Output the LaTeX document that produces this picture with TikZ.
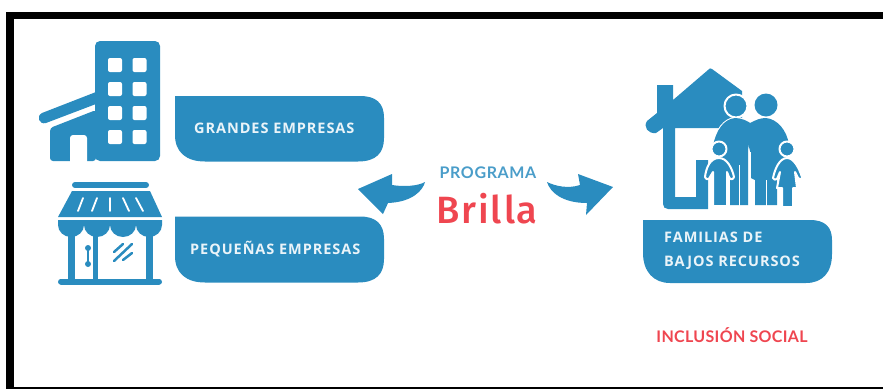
\documentclass[tikz,border=0pt]{standalone}
\usepackage{fontspec}
\setmainfont{Lato}
\newfontfamily\cajafont[LetterSpace=6.5]{Open Sans}
\newfontfamily\progfont[LetterSpace=4]{Lato}
\newfontfamily\inclfont[LetterSpace=2]{Lato}
\newfontfamily\brillafont[LetterSpace=5]{Fira Sans Medium}
\usetikzlibrary{positioning}
\definecolor{azul}{HTML}{2A8CBF}
\definecolor{rojo}{HTML}{EF4650}
\begin{document}
\begin{tikzpicture}
 [x=1pt,y=-1pt,
 icon/.style={fill=azul,draw=none},
 hueco/.style={fill=white,draw=none},
 halo/.style={fill=azul,draw=white,line width=2pt,line join=round},
 caja/.style={font=\cajafont\bfseries\fontsize{14.5}{24}\selectfont,text=white!90!azul,anchor=west,inner sep=0pt}]
\useasboundingbox (0,0) rectangle (883,389);
\fill (6,12) rectangle (883,19);
\fill (6,12) rectangle (14,389);
\fill (14,387) rectangle (883,389);

% cajas
\fill[azul] (175,96) -- (360,96) .. controls (376,96) and (384,103) .. (384,118) -- (384,138) .. controls (384,153) and (376,161.5) .. (358,161.5) -- (205,161.5) .. controls (186,161.5) and (175,152) .. (175,135) -- cycle;
\fill[azul] (175,216.5) -- (360,216.5) .. controls (376,216.5) and (384,224) .. (384,239) -- (384,259) .. controls (384,274) and (376,282.5) .. (358,282.5) -- (205,282.5) .. controls (186,282.5) and (175,273) .. (175,256) -- cycle;
\fill[azul] (643,220) -- (810,220) .. controls (825,220) and (832,227) .. (832,240) -- (832,254) .. controls (832,273) and (822,283) .. (806,283) -- (670,283) .. controls (654,283) and (643,272) .. (643,253) -- cycle;
\node[caja] (grandes) at (194,128) {GRANDES EMPRESAS};
\node[caja] (pequenas) at (190,249) {PEQUEÑAS EMPRESAS};
\node[caja,align=left] (familias) at (664,251) {FAMILIAS DE\\BAJOS RECURSOS};

% edificio
\fill[icon,rounded corners=5pt] (95,41) rectangle (160,161);
\foreach \x in {115,139.5}
  \foreach \y in {65,89,113,137}
    \fill[hueco,rounded corners=2pt] (\x-7,\y-7) rectangle (\x+7,\y+7);
\fill[icon,rounded corners=3pt] (96,161) -- (50,161) -- (50,128) -- (96,110) -- cycle;
\fill[hueco,rounded corners=3pt] (70,165) -- (70,135) -- (87,135) -- (87,165) -- cycle;
\fill[azul] (96,92) -- (42,113) .. controls (36,116) and (39,125) .. (46,123) -- (96,104) -- cycle;

% tienda
\draw[azul,line width=6pt,line cap=round] (75,185) -- (146,185);
\draw[azul,line width=6pt,line cap=round] (61,281.5) -- (159,281.5);
\fill[icon] (72,191) -- (150,191) -- (162,217) -- (58,217) -- cycle;
\foreach \a/\b/\c/\d in {83/78/198/211,97/92/198/211,110/110/198/211,123/129/198/211,136/143/198/211}
  \draw[white,line width=1.8pt,line cap=round] (\a,\c) -- (\b,\d);
\fill[icon] (162,220) -- (58,220) -- (58,225) arc (180:0:13 and 12) arc (180:0:13 and 12) arc (180:0:13 and 12) arc (180:0:13 and 12) -- cycle;
\fill[azul] (68,232) rectangle (75,281);
\fill[azul] (146,232) rectangle (153,281);
\fill[azul] (93,232) rectangle (98,281);
\draw[azul,line width=2pt] (88,248) -- (88,264);
\fill[azul] (88,248) circle (3);
\fill[azul] (88,264) circle (3);
\draw[azul,line width=2.5pt,line cap=round] (114,252) -- (123,244);
\draw[azul,line width=2.5pt,line cap=round] (114,261) -- (132,244);
\draw[azul,line width=2.5pt,line cap=round] (123,260) -- (132,253);

% casa
\fill[icon] (712,69) -- (742,91) -- (742,128) -- (675,128) -- (675,197) -- (696,197) -- (696,160) -- (708,160) -- (708,209) -- (668,209) .. controls (665,209) and (663,207) .. (663,204) -- (663,128) -- (656,133) .. controls (648,134) and (643,127) .. (647,121) -- (657,113) -- (657,85) -- (673,85) -- (673,100) -- (708,70) .. controls (709,68) and (711,68) .. (712,69) -- cycle;

% familia
\fill[halo] (736,106) circle (11.5);
\fill[icon] (766,105) circle (11.5);
\path[halo] (735,118) .. controls (724,119) and (716,130) .. (713,146) -- (722,170) -- (730,175) -- (730,205) -- (748,205) -- (748,150) -- (752,124) .. controls (747,121) and (742,118) .. (735,118) -- cycle;
\path[icon] (735,118) .. controls (724,119) and (716,130) .. (713,146) -- (722,170) -- (730,175) -- (730,205) -- (748,205) -- (748,150) -- (752,124) .. controls (747,121) and (742,118) .. (735,118) -- cycle;
\fill[icon] (766,118) .. controls (760,118) and (756,120) .. (750,123) -- (746,135) -- (751,155) -- (751,178) -- (755,180) -- (755,205) -- (777,205) -- (777,180) -- (785,165) -- (789,145) .. controls (787,130) and (777,119) .. (766,118) -- cycle;
\fill[hueco] (749,152) rectangle (751,206);
\fill[hueco] (738.5,165) rectangle (739.5,206);
\fill[hueco] (765.5,180) rectangle (766.5,206);
\path[halo] (719,149) circle (7.5);
\path[halo] (787,149) circle (7.5);
\path[halo] (705,177) .. controls (706,168) and (710,158) .. (719,158) .. controls (727,158) and (732,168) .. (734,177) .. controls (733,180) and (730,180) .. (729,177) -- (727,172) -- (727,206) -- (713,206) -- (713,172) -- (710,177) .. controls (709,180) and (706,180) .. (705,177) -- cycle;
\path[halo] (773,178) .. controls (775,168) and (780,158) .. (787,158) .. controls (794,158) and (799,168) .. (802,177) .. controls (802,180) and (799,180) .. (798,178) -- (795,172) -- (797,188) -- (793,188) -- (793,207) -- (782,207) -- (782,188) -- (777,188) -- (780,172) -- (777,179) .. controls (776,180) and (773,180) .. (773,178) -- cycle;

% flechas
\fill[icon] (358,189) -- (392,174) -- (392,185) .. controls (404,187) and (418,186) .. (425,182) .. controls (423,190) and (413,202) .. (388,203) -- (383,214) -- cycle;
\fill[icon] (613,187) -- (578,174) -- (580,185) .. controls (568,189) and (555,186) .. (547,182) .. controls (550,192) and (562,203) .. (587,203) -- (586,215) -- cycle;

% textos
\node[font=\progfont\bfseries\fontsize{16}{18}\selectfont,text=azul!85!white] (programa) at (488,173) {PROGRAMA};
\node[font=\brillafont\fontsize{38}{40}\selectfont,text=rojo] (brilla) at (487,209) {Brilla};
\node[font=\inclfont\bfseries\fontsize{16}{18}\selectfont,text=rojo] (inclusion) at (732,335) {INCLUSIÓN SOCIAL};
\end{tikzpicture}
\end{document}
